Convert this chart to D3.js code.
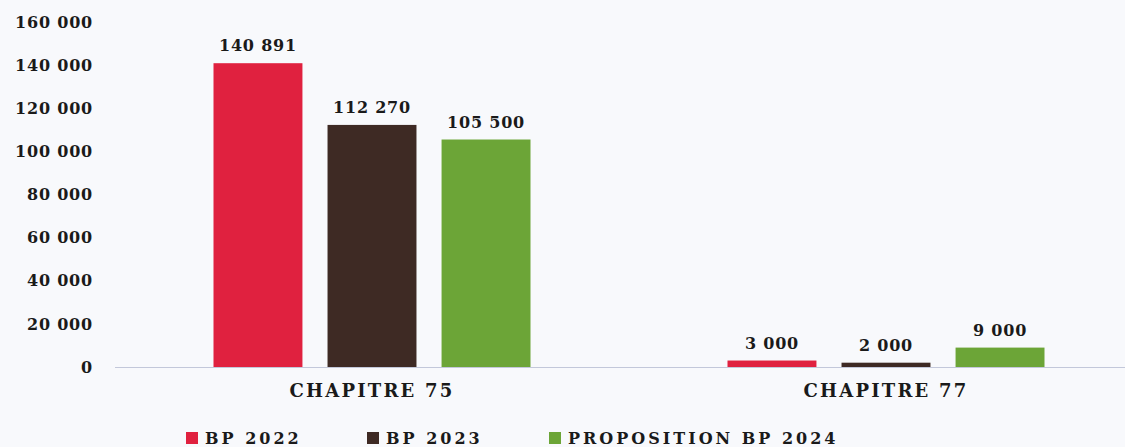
<!DOCTYPE html>
<html>
<head>
<meta charset="utf-8">
<script src="https://cdn.jsdelivr.net/npm/d3@7"></script>
<style>
  html, body { margin: 0; padding: 0; background: #f8f9fc; }
  svg { display: block; }
  text { font-family: "DejaVu Serif", "Liberation Serif", serif; font-weight: bold; fill: #1a1a1a; }
</style>
</head>
<body>
<svg id="chart" width="1125" height="447"></svg>
<script>
// Budget par chapitre
const categories = ["CHAPITRE 75", "CHAPITRE 77"];
const seriesNames = ["BP 2022", "BP 2023", "PROPOSITION BP 2024"];
const bp2022 = [140891, 3000];
const bp2023 = [112270, 2000];
const bp2024 = [105500, 9000];
const yTicks = [0, 20000, 40000, 60000, 80000, 100000, 120000, 140000, 160000];
const colors = ["#e0213f", "#3e2a24", "#6ca537"];

const seriesValues = [bp2022, bp2023, bp2024];
const fmt = v => d3.format(",")(v).replace(/,/g, " ");

const svg = d3.select("#chart");
const baseY = 367, topY = 22;

const x0 = d3.scaleBand().domain(categories).range([115, 1143]).paddingInner(0).paddingOuter(0);
const groupW = 317;
const x1 = d3.scaleBand().domain(seriesNames).range([0, groupW]).paddingInner(0.22).paddingOuter(0);
const y = d3.scaleLinear().domain([0, 160000]).range([baseY, topY]);

function numStyle(sel) {
  sel.style("font-family", "DejaVu Serif, serif")
     .style("font-weight", "bold")
     .style("font-size", "16px")
     .style("letter-spacing", "0.8px")
     .attr("fill", "#1a1a1a");
}

// y axis labels
const yAxis = d3.axisLeft(y).tickValues(yTicks).tickSize(0).tickPadding(0).tickFormat(fmt);
const gy = svg.append("g").attr("transform", "translate(93,0)").call(yAxis);
gy.select(".domain").remove();
gy.selectAll("text").call(numStyle);

// bars and value labels
const groups = svg.append("g").selectAll("g").data(categories).join("g")
  .attr("transform", c => `translate(${x0(c) + (x0.bandwidth() - groupW) / 2},0)`);

groups.each(function(c, ci) {
  const g = d3.select(this);
  seriesNames.forEach((s, si) => {
    const v = seriesValues[si][ci];
    g.append("rect")
      .attr("x", x1(s))
      .attr("y", y(v))
      .attr("width", x1.bandwidth())
      .attr("height", baseY - y(v))
      .attr("fill", colors[si]);
    g.append("text")
      .attr("x", x1(s) + x1.bandwidth() / 2)
      .attr("y", y(v) - 12)
      .attr("text-anchor", "middle")
      .call(numStyle)
      .text(fmt(v));
  });
});

// baseline
svg.append("line")
  .attr("x1", 115).attr("x2", 1125)
  .attr("y1", baseY + 0.5).attr("y2", baseY + 0.5)
  .attr("stroke", "#c3c8da").attr("stroke-width", 1.2);

// category labels
const xAxis = d3.axisBottom(x0).tickSize(0).tickPadding(0);
const gx = svg.append("g").attr("transform", `translate(0,${baseY + 17})`).call(xAxis);
gx.select(".domain").remove();
gx.selectAll("text")
  .style("font-family", "DejaVu Serif, serif")
  .style("font-weight", "bold")
  .style("font-size", "18px")
  .style("letter-spacing", "2.2px")
  .attr("fill", "#1a1a1a");

// legend
const legendX = [186, 367, 549];
const legend = svg.append("g").selectAll("g").data(seriesNames).join("g")
  .attr("transform", (d, i) => `translate(${legendX[i]},432)`);
legend.append("rect").attr("width", 12).attr("height", 12).attr("fill", (d, i) => colors[i]);
legend.append("text").attr("x", 19).attr("y", 12)
  .style("font-size", "16px")
  .style("letter-spacing", "3px")
  .text(d => d);
</script>
</body>
</html>
